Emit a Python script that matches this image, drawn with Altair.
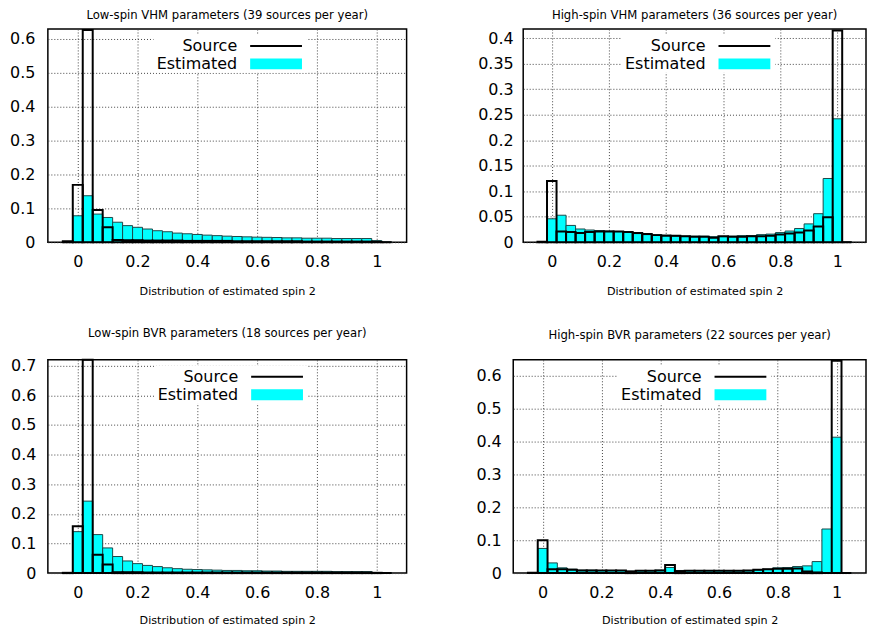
import altair as alt
import pandas as pd

FONT = "DejaVu Sans"

# bin centres of the spin histograms (bin width 1/30)
SPIN_BINS = [k / 30 for k in range(-1, 32)]
BIN_WIDTH = 1 / 30

X_TICKS = [0, 0.2, 0.4, 0.6, 0.8, 1]

LOW_VHM_EST = [0.0, 0.078, 0.137, 0.083, 0.073, 0.059, 0.049, 0.044, 0.039, 0.034, 0.031,
               0.027, 0.025, 0.023, 0.021, 0.0195, 0.018, 0.017, 0.016, 0.015, 0.0145,
               0.014, 0.013, 0.013, 0.012, 0.012, 0.012, 0.011, 0.011, 0.011, 0.011, 0.005, 0.0]
LOW_VHM_SRC = [0.003, 0.169, 0.625, 0.095, 0.044, 0.007, 0.006, 0.006, 0.005, 0.005, 0.005,
               0.005, 0.004, 0.004, 0.004, 0.004, 0.004, 0.003, 0.003, 0.003, 0.003,
               0.003, 0.003, 0.003, 0.002, 0.002, 0.002, 0.002, 0.002, 0.002, 0.002, 0.001, 0.0]

HIGH_VHM_EST = [0.0, 0.046, 0.053, 0.033, 0.026, 0.024, 0.023, 0.022, 0.021, 0.020, 0.017,
                0.015, 0.015, 0.014, 0.012, 0.012, 0.012, 0.012, 0.011, 0.011, 0.012,
                0.013, 0.013, 0.015, 0.016, 0.019, 0.022, 0.027, 0.036, 0.056, 0.125, 0.242, 0.0]
HIGH_VHM_SRC = [0.001, 0.120, 0.021, 0.020, 0.018, 0.020, 0.021, 0.021, 0.021, 0.020, 0.018,
                0.016, 0.014, 0.013, 0.013, 0.012, 0.011, 0.011, 0.009, 0.012, 0.011,
                0.011, 0.012, 0.012, 0.013, 0.015, 0.017, 0.019, 0.023, 0.031, 0.049, 0.415, 0.0]

LOW_BVR_EST = [0.0, 0.140, 0.243, 0.130, 0.085, 0.056, 0.041, 0.032, 0.026, 0.022, 0.018,
               0.015, 0.013, 0.012, 0.011, 0.010, 0.009, 0.009, 0.008, 0.008, 0.007,
               0.007, 0.006, 0.006, 0.006, 0.006, 0.006, 0.005, 0.005, 0.005, 0.005, 0.002, 0.0]
LOW_BVR_SRC = [0.001, 0.158, 0.720, 0.062, 0.029, 0.003, 0.003, 0.003, 0.002, 0.002, 0.002,
               0.002, 0.002, 0.002, 0.002, 0.002, 0.002, 0.002, 0.002, 0.002, 0.002,
               0.002, 0.002, 0.002, 0.002, 0.002, 0.002, 0.002, 0.002, 0.002, 0.002, 0.001, 0.0]

HIGH_BVR_EST = [0.0, 0.075, 0.031, 0.016, 0.012, 0.009, 0.009, 0.008, 0.008, 0.008, 0.006,
                0.008, 0.008, 0.009, 0.017, 0.008, 0.008, 0.008, 0.008, 0.008, 0.007,
                0.007, 0.007, 0.010, 0.012, 0.016, 0.017, 0.020, 0.022, 0.035, 0.134, 0.413, 0.0]
HIGH_BVR_SRC = [0.001, 0.100, 0.012, 0.012, 0.010, 0.008, 0.008, 0.008, 0.008, 0.008, 0.005,
                0.007, 0.007, 0.008, 0.025, 0.006, 0.007, 0.007, 0.007, 0.007, 0.007,
                0.007, 0.008, 0.010, 0.012, 0.013, 0.013, 0.014, 0.005, 0.002, 0.0, 0.645, 0.0]

PANELS = [
    dict(title="Low-spin VHM parameters (39 sources per year)", est=LOW_VHM_EST, src=LOW_VHM_SRC,
         ymax=0.628, yticks=[0, 0.1, 0.2, 0.3, 0.4, 0.5, 0.6]),
    dict(title="High-spin VHM parameters (36 sources per year)", est=HIGH_VHM_EST, src=HIGH_VHM_SRC,
         ymax=0.418, yticks=[0, 0.05, 0.1, 0.15, 0.2, 0.25, 0.3, 0.35, 0.4]),
    dict(title="Low-spin BVR parameters (18 sources per year)", est=LOW_BVR_EST, src=LOW_BVR_SRC,
         ymax=0.72, yticks=[0, 0.1, 0.2, 0.3, 0.4, 0.5, 0.6, 0.7]),
    dict(title="High-spin BVR parameters (22 sources per year)", est=HIGH_BVR_EST, src=HIGH_BVR_SRC,
         ymax=0.648, yticks=[0, 0.1, 0.2, 0.3, 0.4, 0.5, 0.6]),
]

LEGEND_LABELS = ["Source", "Estimated"]
CYAN = "#00ffff"


def make_panel(p, width, extent, label_pad, legend_x, title_offset, xtitle_pad):
    df = pd.DataFrame({"spin": SPIN_BINS, "estimated": p["est"], "source": p["src"]})
    base = alt.Chart(df).transform_calculate(
        lo=f"datum.spin - {BIN_WIDTH / 2}", hi=f"datum.spin + {BIN_WIDTH / 2}"
    )
    xscale = alt.Scale(domain=[-0.1, 1.1], nice=False, zero=False)
    yscale = alt.Scale(domain=[0, p["ymax"]], nice=False, zero=True)
    xaxis = alt.Axis(values=X_TICKS, format="~g", title="Distribution of estimated spin 2",
                     labelPadding=11, titlePadding=xtitle_pad, labelOverlap=False, labelFlush=False)
    yaxis = alt.Axis(values=p["yticks"], format="~g", title=None, labelPadding=label_pad,
                     minExtent=extent, maxExtent=extent, labelOverlap=False, labelFlush=False)

    est = base.mark_rect(fill=CYAN, stroke="#1d4848", strokeWidth=1).encode(
        x=alt.X("lo:Q", scale=xscale, axis=xaxis),
        x2="hi:Q",
        y=alt.Y("estimated:Q", scale=yscale, axis=yaxis),
        y2=alt.datum(0),
    )
    src = base.mark_rect(filled=False, stroke="black", strokeWidth=2).encode(
        x=alt.X("lo:Q", scale=xscale, axis=xaxis),
        x2="hi:Q",
        y=alt.Y("source:Q", scale=yscale, axis=yaxis),
        y2=alt.datum(0),
    )

    one = pd.DataFrame({"label": [LEGEND_LABELS[0]]})
    two = pd.DataFrame({"label": [LEGEND_LABELS[1]]})
    box = alt.Chart(one).mark_rect(fill="white").encode(
        x=alt.value(legend_x - 84), x2=alt.value(legend_x + 70), y=alt.value(6), y2=alt.value(44)
    )
    t1 = alt.Chart(one).mark_text(align="right", baseline="middle", fontSize=16, color="black").encode(
        x=alt.value(legend_x), y=alt.value(17), text="label:N"
    )
    l1 = alt.Chart(one).mark_rule(color="black", strokeWidth=2).encode(
        x=alt.value(legend_x + 13), x2=alt.value(legend_x + 65), y=alt.value(17)
    )
    t2 = alt.Chart(two).mark_text(align="right", baseline="middle", fontSize=16, color="black").encode(
        x=alt.value(legend_x), y=alt.value(35), text="label:N"
    )
    r2 = alt.Chart(two).mark_rect(fill=CYAN).encode(
        x=alt.value(legend_x + 13), x2=alt.value(legend_x + 65), y=alt.value(29.5), y2=alt.value(40.5)
    )

    return alt.layer(est, src, box, t1, l1, t2, r2).properties(
        width=width,
        height=214,
        title=alt.TitleParams(p["title"], fontSize=11.7, fontWeight="normal", anchor="middle",
                              offset=title_offset, color="black"),
    )


p1 = make_panel(PANELS[0], 360, 39, 13, 190, 7, 16)
p2 = make_panel(PANELS[1], 344, 50, 10, 183, 7, 16)
p3 = make_panel(PANELS[2], 360, 39, 12, 191, 18.5, 15)
p4 = make_panel(PANELS[3], 354, 41, 12, 189, 18.5, 15)

row1 = alt.hconcat(p1, p2, spacing=65)
row2 = alt.hconcat(p3, p4, spacing=64)

chart = (
    alt.vconcat(row1, row2, spacing=29)
    .properties(padding=0)
    .configure(font=FONT)
    .configure_view(stroke="black", strokeWidth=1.5)
    .configure_axis(
        grid=True,
        gridColor="#444444",
        gridDash=[1, 2],
        gridWidth=1,
        ticks=False,
        tickSize=0,
        domain=False,
        labelFontSize=16,
        labelColor="black",
        labelFont=FONT,
        titleFontSize=11.2,
        titleFontWeight="normal",
        titleColor="black",
        titleFont=FONT,
    )
    .configure_title(font=FONT)
)

chart.save("out.html", embed_options={"renderer": "svg", "actions": False})
